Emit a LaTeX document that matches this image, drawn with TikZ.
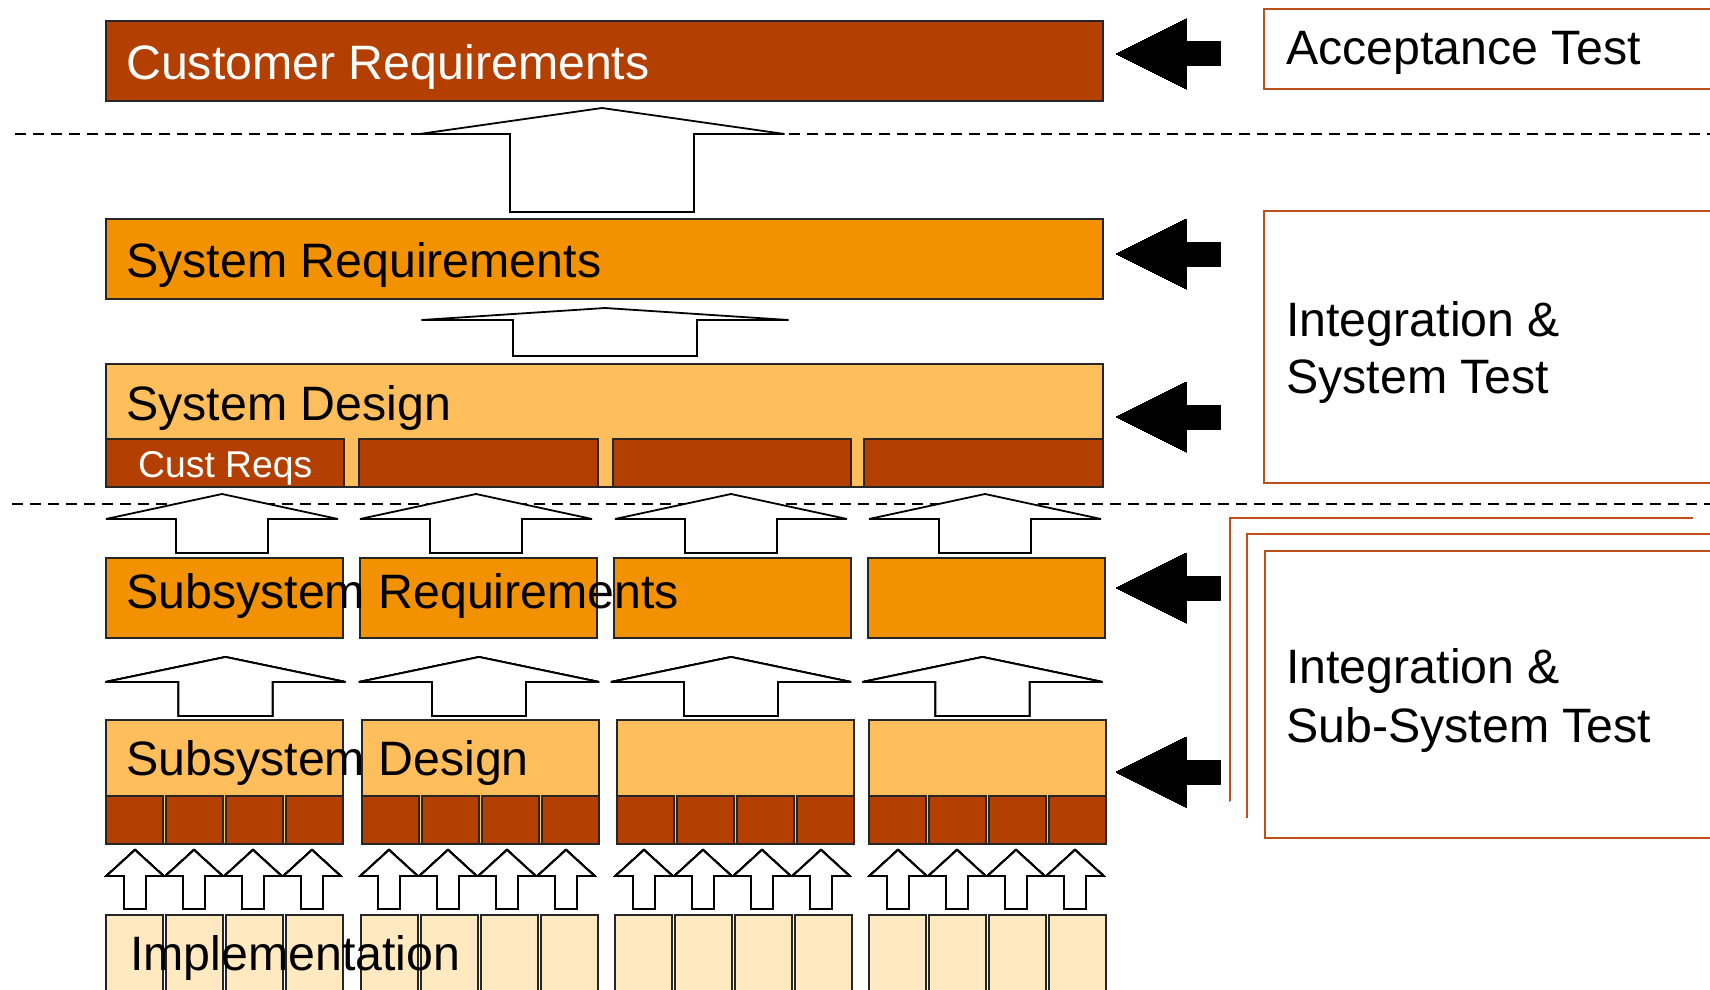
\documentclass[tikz,border=0pt]{standalone}
\usepackage{fontspec}
\setmainfont{Liberation Sans}
\definecolor{cdark}{HTML}{B33F00}
\definecolor{corange}{HTML}{F39200}
\definecolor{clight}{HTML}{FFBE5C}
\definecolor{cpale}{HTML}{FFE9C0}
\definecolor{cframe}{HTML}{C0501A}
\newcommand\myuparrow[6]{%
  \draw[uparr] (#1,#2) -- (#1+#4,#3) -- (#1+#5,#3) -- (#1+#5,#6) -- (#1-#5,#6) -- (#1-#5,#3) -- (#1-#4,#3) -- cycle;}
\newcommand\myleftarrow[1]{%
  \fill[black] (1116,#1) -- (1186,#1-35) -- (1186,#1-12) -- (1220,#1-12) -- (1220,#1+12) -- (1186,#1+12) -- (1186,#1+35) -- cycle;}
\begin{document}
\begin{tikzpicture}[x=1pt,y=-1pt,
  box/.style={draw=black!85, line width=1.4pt},
  uparr/.style={draw=black, fill=white, line width=1.8pt, line join=miter, miter limit=4},
  frame/.style={draw=cframe, line width=1.8pt},
  dashline/.style={draw=black, line width=1.5pt, dash pattern=on 11pt off 7pt},
  bigtext/.style={font=\fontsize{48.3}{58}\selectfont, inner sep=0pt, anchor=base west},
  smalltext/.style={font=\fontsize{37.3}{44}\selectfont, inner sep=0pt, anchor=base west, text=white}]
\useasboundingbox (0,0) rectangle (1710,990);
% dashed separators
\draw[dashline] (15,134) -- (1712,134);
\draw[dashline] (12,504) -- (1712,504);
% Customer Requirements
\draw[box, fill=cdark] (106,21) rectangle (1103,101);
% System Requirements
\draw[box, fill=corange] (106,219) rectangle (1103,299);
% System Design
\draw[box, fill=clight] (106,364) rectangle (1103,487);
\foreach \a/\b in {106/344, 359/598, 613/851, 864/1103}
  \draw[box, fill=cdark] (\a,439) rectangle (\b,487);
% Subsystem Requirements
\foreach \a in {106,360,614,868}
  \draw[box, fill=corange] (\a,558) rectangle (\a+237,638);
% Subsystem Design
\foreach \a in {106,362,617,869} {
  \draw[box, fill=clight] (\a,720) rectangle (\a+237,844);
  \foreach \i in {0,1,2,3}
    \draw[box, fill=cdark] (\a+\i*60,796) rectangle (\a+\i*60+57,844);
}
% Implementation
\foreach \a in {106,361,615,869}
  \foreach \i in {0,1,2,3}
    \draw[box, line width=1.2pt, fill=cpale] (\a+\i*60,915) rectangle (\a+\i*60+57,1000);
% block arrows
\myuparrow{602}{108}{134}{182.5}{92}{212}
\myuparrow{605}{308}{320}{183.5}{92}{356}
\foreach \c in {222,476,731,985}
  \myuparrow{\c}{494}{519}{116}{46}{553}
\foreach \c in {225.5,479,731,982.5}
  \myuparrow{\c}{657}{682}{120}{47}{716}
\foreach \a in {106,360,615,869}
  \foreach \i in {0,1,2,3}
    \myuparrow{\a+29+\i*59}{850}{876}{28.5}{11}{909}
% black arrows
\myleftarrow{54}
\myleftarrow{254}
\myleftarrow{417}
\myleftarrow{588}
\myleftarrow{772}
% test frames
\draw[frame] (1230,801) -- (1230,518) -- (1693,518);
\draw[frame] (1247,818) -- (1247,534) -- (1720,534);
\draw[frame, fill=white] (1720,551) -- (1265,551) -- (1265,838) -- (1720,838);
\draw[frame, fill=white] (1720,9) -- (1264,9) -- (1264,89) -- (1720,89);
\draw[frame, fill=white] (1720,211) -- (1264,211) -- (1264,483) -- (1720,483);
% texts
\node[bigtext, text=white] (tcust) at (126,79) {Customer Requirements};
\node[bigtext] (tsysreq) at (126,277) {System Requirements};
\node[bigtext] (tsysdes) at (126,420) {System Design};
\node[smalltext] (tcustreqs) at (138,477) {Cust Reqs};
\node[bigtext] (tsubreq) at (126,608) {Subsystem Requirements};
\node[bigtext] (tsubdes) at (126,775) {Subsystem Design};
\node[bigtext] (timpl) at (130,970) {Implementation};
\node[bigtext] (tacc) at (1286,65) {Acceptance Test};
\node[bigtext] (tint1) at (1286,336) {Integration \&};
\node[bigtext] (tint2) at (1286,393) {System Test};
\node[bigtext] (tsub1) at (1286,683) {Integration \&};
\node[bigtext] (tsub2) at (1286,742) {Sub-System Test};
\end{tikzpicture}
\end{document}
